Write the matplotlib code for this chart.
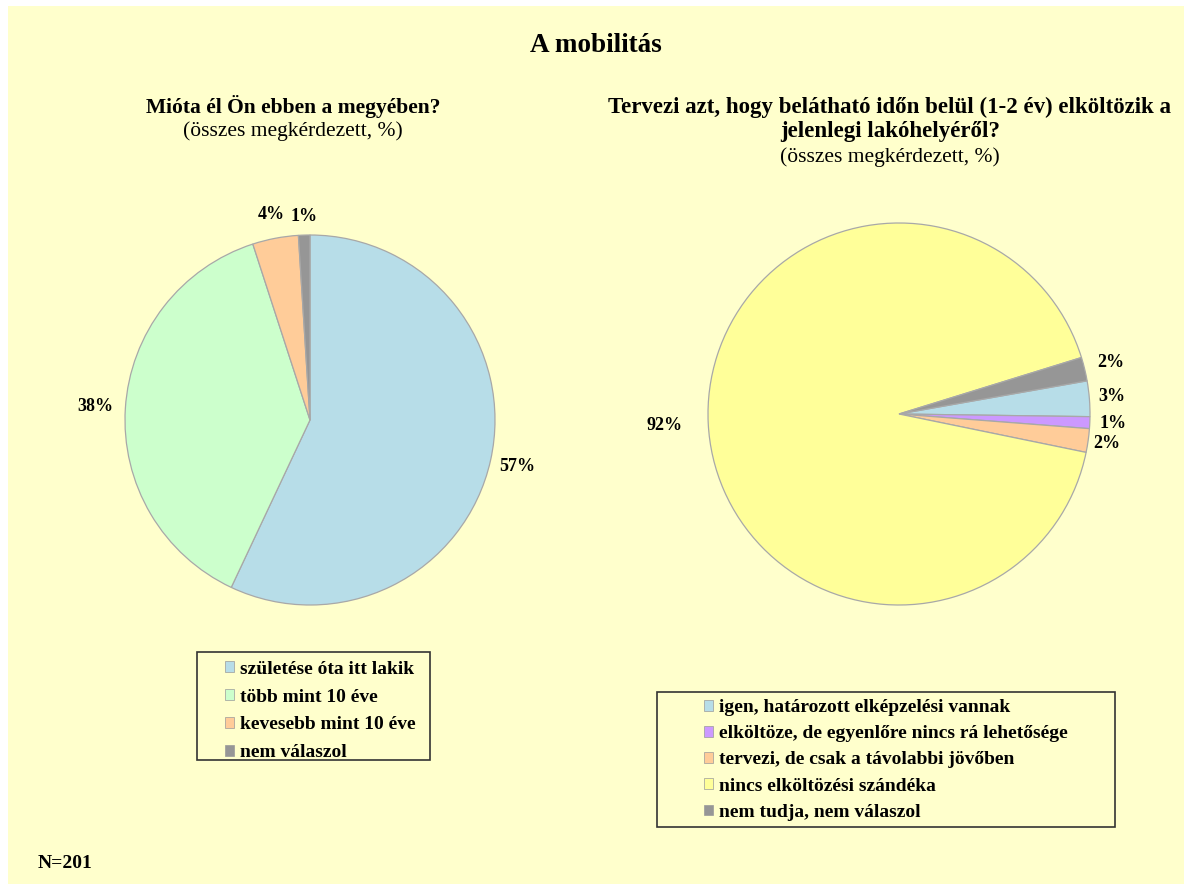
import numpy as np
import matplotlib.pyplot as plt
from matplotlib.patches import Rectangle, Patch

plt.rcParams['font.family'] = ['Liberation Serif', 'DejaVu Serif']

# bal oldali kérdés
left_labels = ['születése óta itt lakik', 'több mint 10 éve',
               'kevesebb mint 10 éve', 'nem válaszol']
left_values = [57, 38, 4, 1]
left_colors = ['#B7DDE8', '#CCFFCC', '#FFCC99', '#969696']

# jobb oldali kérdés
right_labels = ['igen, határozott elképzelési vannak',
                'elköltöze, de egyenlőre nincs rá lehetősége',
                'tervezi, de csak a távolabbi jövőben',
                'nincs elköltözési szándéka',
                'nem tudja, nem válaszol']
right_values = [3, 1, 2, 92, 2]
right_colors = ['#B7DDE8', '#CC99FF', '#FFCC99', '#FFFF99', '#969696']

W, H = 1192, 892
BG = '#FFFFCC'

fig = plt.figure(figsize=(W / 100, H / 100), dpi=100)
fig.patch.set_facecolor('white')
fig.patches.append(Rectangle((8 / W, 8 / H), 1176 / W, 878 / H,
                             transform=fig.transFigure, facecolor=BG,
                             edgecolor='none', zorder=-10))


def px(x, y):
    return x / W, 1 - y / H


def draw_pie(cx, cy, r, values, colors, start, dists):
    ax = fig.add_axes([(cx - r) / W, 1 - (cy + r) / H, 2 * r / W, 2 * r / H])
    wedges, _ = ax.pie(values, colors=colors, startangle=start, counterclock=False,
                       wedgeprops=dict(edgecolor='#A8A8A8', linewidth=0.9))
    ax.set_xlim(-1, 1)
    ax.set_ylim(-1, 1)
    ax.axis('off')
    for w, v, d in zip(wedges, values, dists):
        th = np.deg2rad((w.theta1 + w.theta2) / 2)
        ax.text(d * np.cos(th), d * np.sin(th), f'{v}%', ha='center', va='center',
                fontsize=13, fontweight='bold', clip_on=False)
    return ax


draw_pie(310, 420, 185, left_values, left_colors, 90, [1.15, 1.16, 1.13, 1.10])
draw_pie(899, 414, 191, right_values, right_colors, 10, [1.12, 1.12, 1.10, 1.23, 1.14])

fig.text(*px(596, 45), 'A mobilitás', ha='center', va='center',
         fontsize=19.5, fontweight='bold')

fig.text(*px(293, 107), 'Mióta él Ön ebben a megyében?', ha='center', va='center',
         fontsize=15.5, fontweight='bold')
fig.text(*px(293, 131), '(összes megkérdezett, %)', ha='center', va='center',
         fontsize=15.5)

fig.text(*px(890, 107), 'Tervezi azt, hogy belátható időn belül (1-2 év) elköltözik a',
         ha='center', va='center', fontsize=16.5, fontweight='bold')
fig.text(*px(890, 132), 'jelenlegi lakóhelyéről?', ha='center', va='center',
         fontsize=16.5, fontweight='bold')
fig.text(*px(890, 157), '(összes megkérdezett, %)', ha='center', va='center',
         fontsize=15.5)

fig.text(*px(38, 864), 'N=201', ha='left', va='center', fontsize=14,
         fontweight='bold')


def draw_legend(labels, colors, box, anchor, spacing):
    x0, y0, x1, y1 = box
    fig.patches.append(Rectangle((x0 / W, 1 - y1 / H), (x1 - x0) / W, (y1 - y0) / H,
                                 transform=fig.transFigure, facecolor=BG,
                                 edgecolor='#333333', linewidth=1.2, zorder=1))
    handles = [Patch(facecolor=c, edgecolor='#9A9A9A', linewidth=0.5) for c in colors]
    leg = fig.legend(handles, labels, loc='center left', bbox_to_anchor=px(*anchor),
                     frameon=False, borderpad=0, borderaxespad=0,
                     handlelength=0.47, handleheight=0.47, handletextpad=0.3,
                     labelspacing=spacing, prop=dict(size=14, weight='bold'))
    leg.set_zorder(2)


draw_legend(left_labels, left_colors, (197, 652, 430, 760), (225, 711), 0.56)
draw_legend(right_labels, right_colors, (657, 692, 1115, 827), (704, 760), 0.47)

fig.savefig('out.png', dpi=100, facecolor=fig.get_facecolor())
